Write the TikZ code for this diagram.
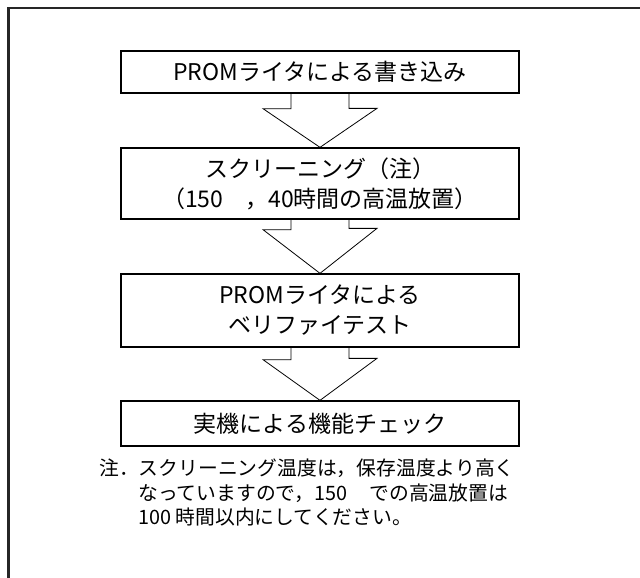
\documentclass[tikz,border=0pt]{standalone}
\usepackage{fontspec}
\setmainfont{Noto Sans CJK JP}
\tikzset{
  stepbox/.style={draw=black, line width=1.3pt, minimum width=398pt, inner sep=0pt, align=center, font=\fontsize{23}{30}\selectfont},
  flowarrow/.style={draw=black, line width=0.8pt, line join=miter},
  frame/.style={draw=black!85, line width=2.2pt},
  notetext/.style={align=left, inner sep=0pt, font=\fontsize{19.8}{24.5}\selectfont}
}
\begin{document}
\begin{tikzpicture}[x=1pt,y=-1pt]
\useasboundingbox (0,0) rectangle (640,578);
\draw[frame] (650,8) -- (8.5,8) -- (8.5,590);
\node[stepbox, minimum height=42pt] (b1) at (320,72) {PROMライタによる書き込み};
\node[stepbox, minimum height=71pt] (b2) at (320,183.5) {スクリーニング（注）\\（150\hspace{22pt}，40時間の高温放置）};
\node[stepbox, minimum height=73pt] (b3) at (320,310.5) {PROMライタによる\\ベリファイテスト};
\node[stepbox, minimum height=45pt] (b4) at (320,423.5) {実機による機能チェック};
\draw[flowarrow] ([xshift=-29pt]b1.south) -- ++(0,15) -- ++(-28,0) -- (b2.north) -- ++(57,-39) -- ++(-28,0) -- ([xshift=29pt]b1.south);
\draw[flowarrow] ([xshift=-29pt]b2.south) -- ++(0,10) -- ++(-28,0) -- (b3.north) -- ++(57,-45) -- ++(-28,0) -- ([xshift=29pt]b2.south);
\draw[flowarrow] ([xshift=-29pt]b3.south) -- ++(0,12) -- ++(-28,0) -- (b4.north) -- ++(57,-42) -- ++(-28,0) -- ([xshift=29pt]b3.south);
\node[notetext, anchor=north west] (note) at (99,459) {注．スクリーニング温度は，保存温度より高く\\\hspace*{39pt}なっていますので，150\hspace{22pt}での高温放置は\\\hspace*{39pt}100 時間以内にしてください。};
\end{tikzpicture}
\end{document}
